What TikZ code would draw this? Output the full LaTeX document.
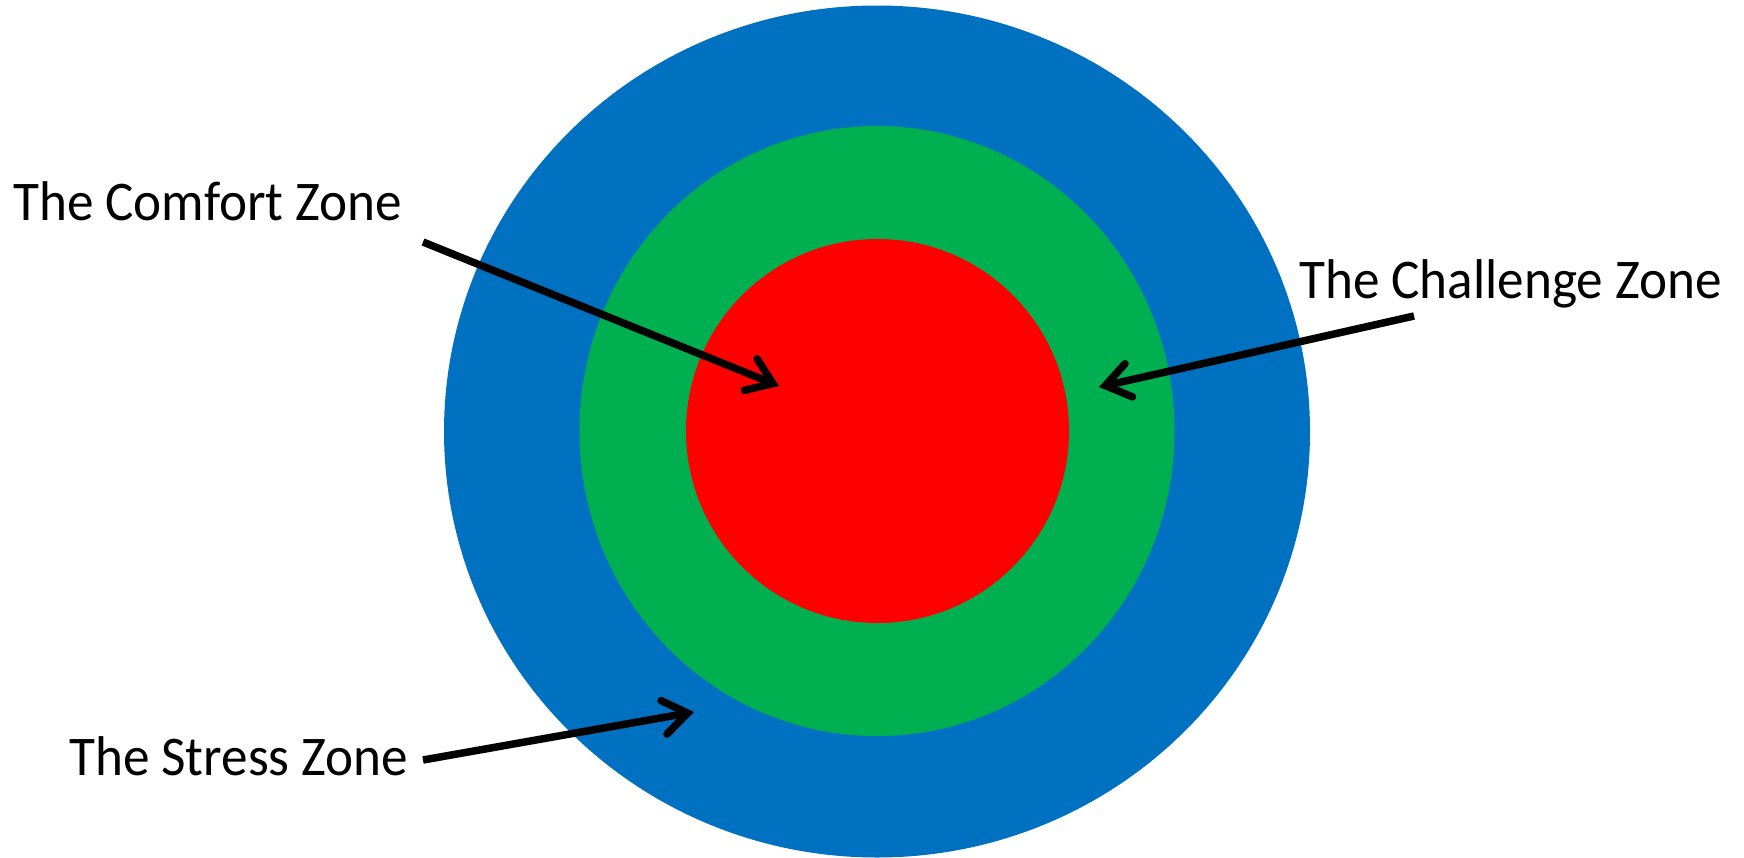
\documentclass[tikz,border=0pt]{standalone}
\usepackage{fontspec}
\setmainfont{Carlito}
\usetikzlibrary{arrows.meta}
\definecolor{zblue}{HTML}{0070C0}
\definecolor{zgreen}{HTML}{00B050}
\definecolor{zred}{HTML}{FF0000}
\newcommand{\zonetext}[1]{\scalebox{0.95}[1]{#1}}
\tikzset{
  lbl/.style={inner sep=0pt, anchor=base west, font=\fontsize{56}{60}\selectfont},
  pointer/.style={line width=7.5pt, -{Straight Barb[length=24pt, width=34pt, line cap=round]}},
}
\begin{document}
\begin{tikzpicture}[x=1pt,y=-1pt]
\useasboundingbox (0,0) rectangle (1744,857);
\fill[zblue] (877,431.5) ellipse [x radius=433, y radius=426];
\fill[zgreen] (877,431) ellipse [x radius=297.5, y radius=305];
\fill[zred] (877.5,431) ellipse [x radius=191.5, y radius=192];
\node[lbl] (comfort) at (13,220) {\zonetext{The Comfort Zone}};
\node[lbl] (challenge) at (1299,298) {\zonetext{The Challenge Zone}};
\node[lbl] (stress) at (69,775) {\zonetext{The Stress Zone}};
\coordinate (c1) at (423,242);
\coordinate (c2) at (779,386);
\coordinate (h1) at (1414,316);
\coordinate (h2) at (1099,387);
\coordinate (s1) at (423,760);
\coordinate (s2) at (694,712);
\draw[pointer] (c1) -- (c2);
\draw[pointer] (h1) -- (h2);
\draw[pointer] (s1) -- (s2);
\end{tikzpicture}
\end{document}
